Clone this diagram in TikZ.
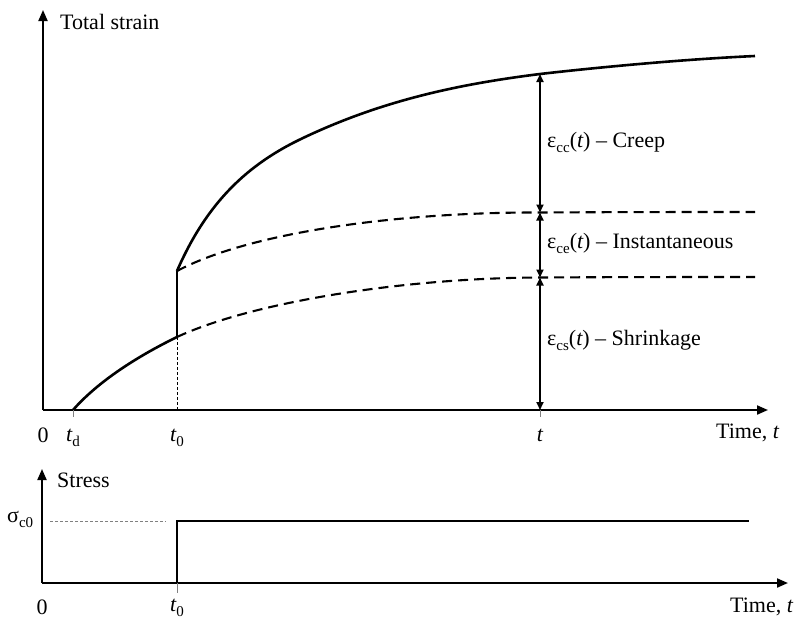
\documentclass[tikz,border=0pt]{standalone}
\usepackage{fontspec}
\setmainfont{Liberation Serif}
\usetikzlibrary{arrows.meta}
\newcommand{\lsub}[1]{\raisebox{-0.25em}{\fontsize{15}{15}\selectfont #1}}
\newcommand{\ti}{{\itshape t}}
\begin{document}
\begin{tikzpicture}[x=1pt,y=-1pt, font=\fontsize{22}{26}\selectfont,
  axis/.style={line width=2pt, -{Triangle[length=11pt,width=9pt]}},
  curve/.style={line width=2.6pt, line join=round},
  dcurve/.style={line width=2.1pt, dash pattern=on 10pt off 6pt},
  dim/.style={line width=1.7pt, {Triangle[length=8pt,width=7pt]}-{Triangle[length=8pt,width=7pt]}},
  guide/.style={line width=0.9pt, dash pattern=on 3pt off 2pt},
  tickmark/.style={line width=1pt, gray},
  lbl/.style={anchor=base west, inner sep=0pt},
  lblc/.style={anchor=base, inner sep=0pt}]
\useasboundingbox (0,0) rectangle (795,619);

% --- coordinates (top) ---
\coordinate (O1) at (43,410);
\coordinate (Ytop) at (43,10);
\coordinate (Xend) at (768,410);
\coordinate (Td) at (73,410);
\coordinate (Tdt) at (73,417);
\coordinate (T0a) at (177,410);
\coordinate (Plow) at (177,337);
\coordinate (Phigh) at (177,271);
\coordinate (Ta) at (540,410);
\coordinate (Tat) at (540,417);
\coordinate (Ctop) at (540,74);
\coordinate (Cmid) at (540,212.5);
\coordinate (Cbot) at (540,277.5);
\coordinate (Pq) at (303,138);
\coordinate (Eend) at (755,56);
\coordinate (Dend1) at (755,212);
\coordinate (Dend2) at (755,277);

% --- axes (top) ---
\draw[axis] (O1) -- (Ytop);
\draw[axis] (O1) -- (Xend);

% --- curves ---
\draw[curve] (Td) .. controls (95,385) and (130,360) .. (Plow);
\draw[curve] (Plow) -- (Phigh);
\draw[curve] (Phigh) .. controls (207,202) and (248,164) .. (Pq)
  .. controls (383,100) and (460,84) .. (Ctop)
  .. controls (610,66) and (690,59) .. (Eend);
\draw[dcurve] (Phigh) .. controls (250,232) and (400,212) .. (Cmid)
  .. controls (620,212) and (700,212) .. (Dend1);
\draw[dcurve] (Plow) .. controls (250,303) and (400,278) .. (Cbot)
  .. controls (620,277) and (700,277) .. (Dend2);

% --- guides and ticks ---
\draw[guide] (Plow) -- (T0a);
\draw[tickmark] (Td) -- (Tdt);
\draw[tickmark] (Ta) -- (Tat);

% --- dimension arrows ---
\draw[dim] (Ctop) -- (Cmid);
\draw[dim] (Cmid) -- (Cbot);
\draw[dim] (Cbot) -- (Ta);

% --- labels (top) ---
\node[lbl] (ylab) at (60,29) {Total strain};
\node[lblc] (zero1) at (43,442) {0};
\node[lbl] (tdlab) at (66,441) {\ti\lsub{d}};
\node[lbl] (t0lab) at (170,441) {\ti\lsub{0}};
\node[lblc] (tlab) at (540,441) {\ti};
\node[lbl] (xlab) at (716,438) {Time, \ti};
\node[lbl] (creep) at (547,147) {ε\lsub{cc}(\ti) – Creep};
\node[lbl] (inst) at (547,248) {ε\lsub{ce}(\ti) – Instantaneous};
\node[lbl] (shr) at (547,345) {ε\lsub{cs}(\ti) – Shrinkage};

% --- bottom diagram ---
\coordinate (O2) at (42,583);
\coordinate (Y2top) at (42,469);
\coordinate (X2end) at (788,583);
\coordinate (S0) at (177,583);
\coordinate (S0t) at (177,593);
\coordinate (S1) at (177,521);
\coordinate (S2) at (749,521);
\coordinate (G1) at (50,521);
\coordinate (G2) at (166,521);

\draw[axis] (O2) -- (Y2top);
\draw[axis] (O2) -- (X2end);
\draw[tickmark] (S0) -- (S0t);
\draw[guide, gray] (G1) -- (G2);
\draw[curve, line join=miter] (S0) -- (S1) -- (S2);

\node[lbl] (slab) at (57,487) {Stress};
\node[lbl] (sig) at (7,522) {σ\lsub{c0}};
\node[lblc] (zero2) at (42,614) {0};
\node[lbl] (t0lab2) at (170,611) {\ti\lsub{0}};
\node[lbl] (xlab2) at (730,612) {Time, \ti};
\end{tikzpicture}
\end{document}
